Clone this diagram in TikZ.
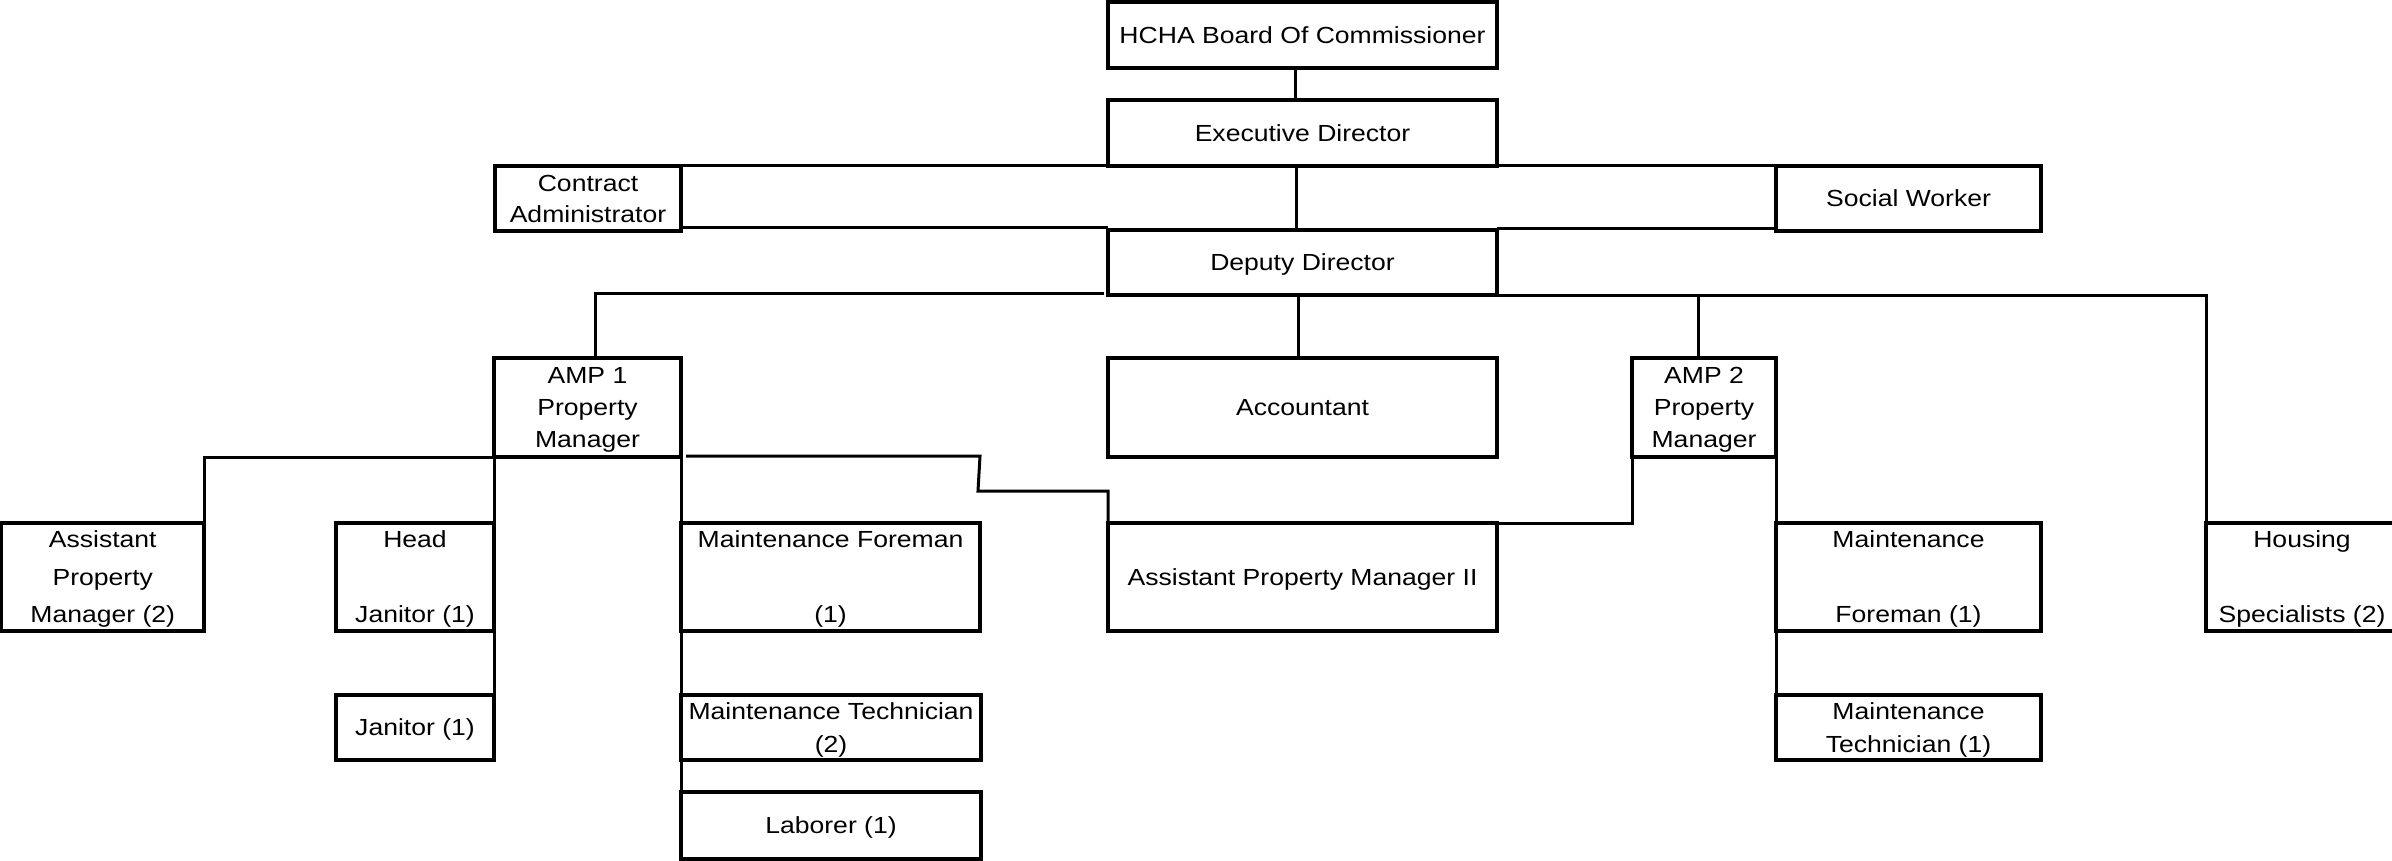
\documentclass[tikz,border=0pt]{standalone}
\usepackage{fontspec}
\setmainfont{Liberation Sans}[FakeStretch=1.14]
\usetikzlibrary{calc}
\tikzset{
  box/.style={draw=black, line width=1.6pt, inner sep=0pt, outer sep=0pt,
    align=center, text depth=0pt, fill=white},
  wh/.style 2 args={minimum width=#1*0.5pt, minimum height=#2*0.5pt},
  ls/.style={font=\fontsize{11.65pt}{#1}\selectfont},
  conn/.style={draw=black, line width=1.5pt}
}
\begin{document}
\begin{tikzpicture}[x=0.5pt,y=-0.5pt]
\useasboundingbox (0,0) rectangle (2392,861);
% boxes
\node[box,ls=16pt,wh={389}{66}] (hcha) at (1302.5,35) {HCHA Board Of Commissioner};
\node[box,ls=16pt,wh={389}{66}] (exec) at (1302.5,133) {Executive Director};
\node[box,ls=15.5pt,wh={186}{65}] (ca) at (588,198.5) {Contract\\Administrator};
\node[box,ls=16pt,wh={265}{65}] (sw) at (1908.5,198.5) {Social Worker};
\node[box,ls=16pt,wh={389}{65}] (dep) at (1302.5,262.5) {Deputy Director};
\node[box,ls=16pt,wh={187}{99}] (amp1) at (587.5,407.5) {AMP 1\\Property\\Manager};
\node[box,ls=16pt,wh={389}{99}] (acct) at (1302.5,407.5) {Accountant};
\node[box,ls=16pt,wh={144}{99}] (amp2) at (1704,407.5) {AMP 2\\Property\\Manager};
\node[box,ls=18.75pt,wh={202.5}{108}] (apm) at (102.75,577) {Assistant\\Property\\Manager (2)};
\node[box,ls=18.75pt,wh={158}{108}] (hj) at (415,577) {Head\\\mbox{}\\Janitor (1)};
\node[box,ls=18.75pt,wh={299}{108}] (mf1) at (830.5,577) {Maintenance Foreman\\\mbox{}\\(1)};
\node[box,ls=16pt,wh={389}{108}] (apm2) at (1302.5,577) {Assistant Property Manager II};
\node[box,ls=18.75pt,wh={265}{108}] (mf2) at (1908.5,577) {Maintenance\\\mbox{}\\Foreman (1)};
\node[box,ls=18.75pt,wh={192}{108}] (hs) at (2302,577) {Housing\\\mbox{}\\Specialists (2)};
\node[box,ls=16pt,wh={158}{65}] (jan) at (415,727.5) {Janitor (1)};
\node[box,ls=16.5pt,wh={300}{65}] (mt2) at (831,727.5) {Maintenance Technician\\(2)};
\node[box,ls=16pt,wh={300}{67}] (lab) at (831,825.5) {Laborer (1)};
\node[box,ls=16.5pt,wh={265}{65}] (mt1) at (1908.5,727.5) {Maintenance\\Technician (1)};
% connectors
\draw[conn] ($(hcha.south)+(-7,0)$) -- ($(exec.north)+(-7,0)$);
\draw[conn] ($(exec.south)+(-6,0)$) -- ($(dep.north)+(-6,0)$);
\draw[conn] (ca.north east) -- (exec.south west);
\draw[conn] ($(ca.south east)+(0,-3)$) -- ($(dep.north west)+(0,-2)$);
\draw[conn] (exec.south east) -- (sw.north west);
\draw[conn] ($(dep.north east)+(0,-1)$) -- ($(sw.south west)+(0,-2)$);
\draw[conn] ($(dep.south west)+(-4,-2)$) -| ($(amp1.north)+(7.5,0)$);
\draw[conn] ($(dep.south)+(-4.5,0)$) -- ($(acct.north)+(-4.5,0)$);
\draw[conn] (dep.south east) -| (hs.north west);
\draw[conn] ($(amp2.north)+(-6,0)$) |- (dep.south east);
\draw[conn] (amp1.south west) -| (apm.north east);
\draw[conn] (amp1.south west) -- (hj.north east);
\draw[conn] (hj.south east) -- (jan.north east);
\draw[conn] (amp1.south east) -- (mf1.north west);
\draw[conn] (mf1.south west) -- (mt2.north west);
\draw[conn] (mt2.south west) -- (lab.north west);
\coordinate (k1) at (980,456);
\coordinate (k2) at (978,491);
\draw[conn] ($(amp1.south east)+(5,-1)$) -- (k1) -- (k2) -| (apm2.north west);
\draw[conn] (amp2.south west) |- (apm2.north east);
\draw[conn] (amp2.south east) -- (mf2.north west);
\draw[conn] (mf2.south west) -- (mt1.north west);
\end{tikzpicture}
\end{document}
